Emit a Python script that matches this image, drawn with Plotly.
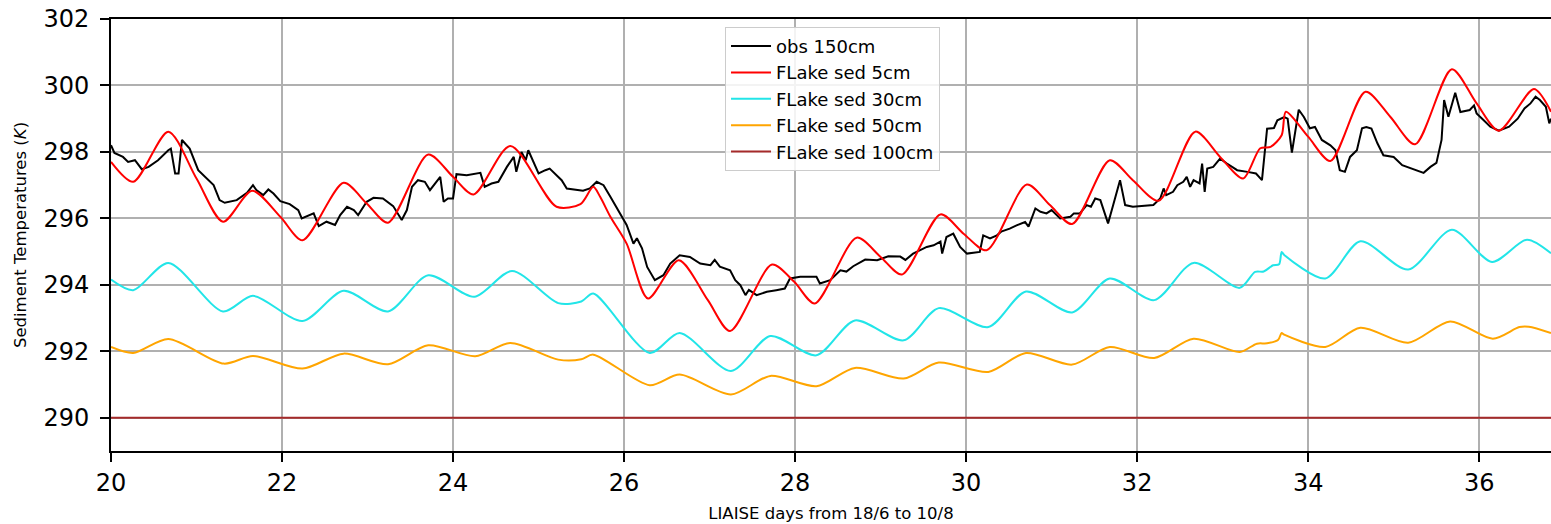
import plotly.graph_objects as go

# --- observed sediment temperature at 150 cm ---
obs_days = [
    20.00, 20.04, 20.14, 20.20, 20.28, 20.36, 20.44, 20.55, 20.67, 20.70, 20.75, 20.79, 20.83, 20.92,
    21.02, 21.12, 21.20, 21.27, 21.33, 21.47, 21.59, 21.66, 21.70, 21.78, 21.84, 21.90, 21.98,
    22.09, 22.19, 22.23, 22.31, 22.37, 22.43, 22.52, 22.62, 22.68, 22.76, 22.84, 22.89, 22.99,
    23.07, 23.18, 23.30, 23.40, 23.46, 23.52, 23.59, 23.67, 23.73, 23.79, 23.85, 23.89, 23.94,
    24.00, 24.04, 24.16, 24.32, 24.37, 24.45, 24.53, 24.63, 24.71, 24.74, 24.80, 24.85, 24.88, 24.92,
    25.00, 25.08, 25.13, 25.27, 25.33, 25.52, 25.60, 25.68, 25.76, 25.84, 25.93,
    26.03, 26.11, 26.15, 26.21, 26.27, 26.36, 26.46, 26.54, 26.65, 26.77, 26.89,
    27.01, 27.06, 27.12, 27.24, 27.30, 27.36, 27.42, 27.46, 27.55, 27.67, 27.78, 27.88, 27.94,
    28.06, 28.25, 28.29, 28.41, 28.53, 28.60, 28.68, 28.82, 28.96,
    29.09, 29.23, 29.29, 29.38, 29.54, 29.62, 29.70, 29.72, 29.77, 29.85, 29.93,
    30.01, 30.16, 30.20, 30.28, 30.36, 30.41, 30.51, 30.59, 30.69, 30.73, 30.81, 30.87, 30.94,
    31.00, 31.10, 31.22, 31.26, 31.33, 31.41, 31.46, 31.51, 31.57, 31.66, 31.72, 31.80, 31.86, 31.95,
    32.19, 32.27, 32.31, 32.34, 32.42, 32.47, 32.54, 32.58, 32.62, 32.66, 32.73, 32.76, 32.79, 32.82,
    32.89, 32.97, 33.05, 33.17, 33.29, 33.39, 33.46, 33.52, 33.60, 33.64, 33.72, 33.76, 33.81, 33.89,
    33.95, 34.02, 34.08, 34.16, 34.26, 34.32, 34.37, 34.43, 34.49, 34.57, 34.63, 34.68, 34.74, 34.81,
    34.88, 35.00, 35.10, 35.20, 35.27, 35.35, 35.43, 35.50, 35.56, 35.59, 35.64, 35.72, 35.78, 35.89,
    35.94, 35.97, 36.05, 36.13, 36.23, 36.35, 36.45, 36.53, 36.60, 36.66, 36.71, 36.78, 36.82, 36.84,
]
obs_150 = [
    298.20, 297.97, 297.85, 297.70, 297.75, 297.48, 297.55, 297.75, 298.05, 298.10, 297.35, 297.35, 298.36, 298.10,
    297.45, 297.20, 297.00, 296.55, 296.47, 296.55, 296.77, 297.00, 296.85, 296.70, 296.87, 296.75, 296.52,
    296.43, 296.25, 296.00, 296.10, 296.15, 295.77, 295.90, 295.80, 296.10, 296.35, 296.25, 296.10, 296.50,
    296.62, 296.60, 296.37, 295.95, 296.25, 296.95, 297.15, 297.10, 296.85, 297.05, 297.25, 296.50, 296.60,
    296.60, 297.33, 297.30, 297.37, 296.95, 297.05, 297.10, 297.55, 297.85, 297.40, 298.00, 297.75, 298.05, 297.80,
    297.35, 297.45, 297.50, 297.15, 296.90, 296.83, 296.90, 297.10, 297.00, 296.65, 296.25,
    295.80, 295.24, 295.40, 295.10, 294.54, 294.14, 294.29, 294.64, 294.89, 294.84, 294.64,
    294.59, 294.75, 294.55, 294.44, 294.14, 293.99, 293.69, 293.85, 293.69, 293.79, 293.84, 293.89, 294.19,
    294.24, 294.24, 294.04, 294.14, 294.44, 294.40, 294.56, 294.76, 294.74,
    294.86, 294.85, 294.75, 294.94, 295.14, 295.19, 295.30, 294.94, 295.44, 295.54, 295.14,
    294.94, 294.99, 295.49, 295.40, 295.49, 295.60, 295.69, 295.79, 295.89, 295.75, 296.30, 296.20, 296.15,
    296.25, 296.00, 296.05, 296.15, 296.15, 296.40, 296.35, 296.60, 296.55, 295.85, 296.40, 297.15, 296.40, 296.35,
    296.40, 296.60, 296.90, 296.70, 296.80, 297.00, 297.10, 297.25, 296.95, 297.15, 297.05, 297.65, 296.80, 297.50,
    297.55, 297.80, 297.65, 297.45, 297.40, 297.35, 297.15, 298.70, 298.72, 298.95, 299.05, 299.00, 297.98, 299.27,
    299.05, 298.71, 298.75, 298.36, 298.20, 298.05, 297.45, 297.40, 297.85, 298.05, 298.71, 298.75, 298.70, 298.26,
    297.90, 297.85, 297.60, 297.50, 297.45, 297.37, 297.55, 297.67, 298.36, 299.56, 299.06, 299.78, 299.20, 299.26,
    299.40, 299.16, 298.96, 298.76, 298.64, 298.76, 299.00, 299.31, 299.46, 299.66, 299.56, 299.36, 298.86, 299.00,
]

# --- FLake sediment temperature at 5 cm ---
sed5_days = [
    20.00, 20.26, 20.67, 21.00, 21.31, 21.65, 21.98, 22.24, 22.72, 22.99, 23.24, 23.71, 24.00, 24.24,
    24.67, 25.21, 25.49, 25.64, 25.72, 25.84, 26.03, 26.28, 26.64, 26.98, 27.24, 27.73, 27.99, 28.23,
    28.72, 29.00, 29.25, 29.70, 29.97, 30.24, 30.71, 30.98, 31.24, 31.68, 31.95, 32.25, 32.68, 32.97,
    33.24, 33.44, 33.56, 33.69, 33.74, 34.00, 34.26, 34.67, 34.96, 35.25, 35.68, 35.97, 36.23, 36.64, 36.84,
]
sed5 = [
    297.70, 297.10, 298.61, 297.20, 295.90, 296.83, 296.05, 295.34, 297.07, 296.45, 295.87, 297.92, 297.25, 296.72,
    298.18, 296.35, 296.43, 296.95, 296.65, 296.05, 295.24, 293.59, 294.74, 293.54, 292.61, 294.61, 294.09, 293.44,
    295.42, 294.84, 294.31, 296.12, 295.54, 295.04, 297.02, 296.40, 295.83, 297.75, 297.15, 296.53, 298.61, 297.85,
    297.20, 298.11, 298.15, 298.50, 299.21, 298.46, 297.73, 299.81, 299.06, 298.23, 300.49, 299.46, 298.64, 299.89, 299.21,
]

# --- FLake sediment temperature at 30 cm ---
sed30_days = [
    20.00, 20.26, 20.67, 21.31, 21.66, 22.24, 22.72, 23.24, 23.71, 24.25, 24.69, 25.23, 25.50, 25.64,
    26.30, 26.65, 27.25, 27.71, 28.25, 28.70, 29.27, 29.68, 30.26, 30.70, 31.24, 31.68, 32.20, 32.66,
    33.20, 33.38, 33.48, 33.59, 33.66, 33.69, 33.72, 34.20, 34.61, 35.17, 35.68, 36.15, 36.56, 36.84,
]
sed30 = [
    294.16, 293.84, 294.66, 293.20, 293.67, 292.91, 293.82, 293.20, 294.29, 293.64, 294.42, 293.45, 293.50, 293.74,
    291.95, 292.55, 291.41, 292.46, 291.88, 292.93, 292.33, 293.30, 292.73, 293.80, 293.17, 294.19, 293.54, 294.66,
    293.91, 294.39, 294.40, 294.59, 294.62, 294.99, 294.90, 294.19, 295.31, 294.46, 295.66, 294.69, 295.36, 294.95,
]

# --- FLake sediment temperature at 50 cm ---
sed50_days = [
    20.00, 20.26, 20.67, 21.32, 21.66, 22.24, 22.72, 23.24, 23.71, 24.26, 24.67, 25.23, 25.50, 25.64,
    26.30, 26.65, 27.25, 27.71, 28.25, 28.70, 29.27, 29.68, 30.26, 30.70, 31.24, 31.68, 32.20, 32.66,
    33.20, 33.40, 33.52, 33.65, 33.69, 33.72, 34.20, 34.61, 35.17, 35.66, 36.16, 36.47, 36.58, 36.84,
]
sed50 = [
    292.13, 291.95, 292.37, 291.63, 291.86, 291.48, 291.93, 291.61, 292.18, 291.85, 292.25, 291.75, 291.76, 291.90,
    290.98, 291.30, 290.70, 291.26, 290.95, 291.50, 291.18, 291.66, 291.38, 291.95, 291.60, 292.13, 291.80, 292.38,
    291.98, 292.23, 292.24, 292.35, 292.55, 292.50, 292.13, 292.71, 292.26, 292.90, 292.38, 292.73, 292.74, 292.55,
]

# --- FLake sediment temperature at 100 cm (constant) ---
sed100_days = [20.00, 36.84]
sed100 = [290.0, 290.0]

series = [
    ("obs 150cm", obs_days, obs_150, "#000000", "linear"),
    ("FLake sed 5cm", sed5_days, sed5, "#ff0000", "spline"),
    ("FLake sed 30cm", sed30_days, sed30, "#22e5e8", "spline"),
    ("FLake sed 50cm", sed50_days, sed50, "#ffa500", "spline"),
    ("FLake sed 100cm", sed100_days, sed100, "#a52a2a", "linear"),
]

x_ticks = [20, 22, 24, 26, 28, 30, 32, 34, 36]
y_ticks = [290, 292, 294, 296, 298, 300, 302]

FONT = "DejaVu Sans"

fig = go.Figure()
for name, xs, ys, color, shape in series:
    line = dict(color=color, width=2, shape=shape)
    if shape == "spline":
        line["smoothing"] = 0.8
    fig.add_trace(go.Scatter(x=xs, y=ys, mode="lines", name=name, line=line))

axis_common = dict(
    showgrid=True,
    gridcolor="#b0b0b0",
    gridwidth=1.5,
    showline=True,
    linecolor="#000000",
    linewidth=1.8,
    ticks="outside",
    ticklen=9,
    tickwidth=1.5,
    tickcolor="#000000",
    zeroline=False,
    tickfont=dict(family=FONT, size=24, color="#000000"),
)

fig.update_layout(
    width=1551,
    height=524,
    autosize=False,
    margin=dict(l=111, r=0, t=19, b=73),
    paper_bgcolor="white",
    plot_bgcolor="white",
    font=dict(family=FONT, color="#000000"),
    showlegend=True,
    legend=dict(
        x=0.4264,
        y=0.982,
        xanchor="left",
        yanchor="top",
        bgcolor="rgba(255,255,255,0.85)",
        bordercolor="#cccccc",
        borderwidth=1,
        itemwidth=40,
        font=dict(family=FONT, size=18, color="#000000"),
    ),
    xaxis=dict(
        range=[20, 36.84],
        tickvals=x_ticks,
        ticktext=[str(t) for t in x_ticks],
        mirror=True,
        title=dict(text="LIAISE days from 18/6 to 10/8",
                   font=dict(family=FONT, size=16.5), standoff=12),
        **axis_common,
    ),
    yaxis=dict(
        range=[289, 302],
        tickvals=y_ticks,
        ticktext=[str(t) for t in y_ticks],
        ticklabelstandoff=6,
        title=dict(text="Sediment Temperatures (<i>K</i>)",
                   font=dict(family=FONT, size=16.5), standoff=13),
        **axis_common,
    ),
)

fig.write_html("out.html")
